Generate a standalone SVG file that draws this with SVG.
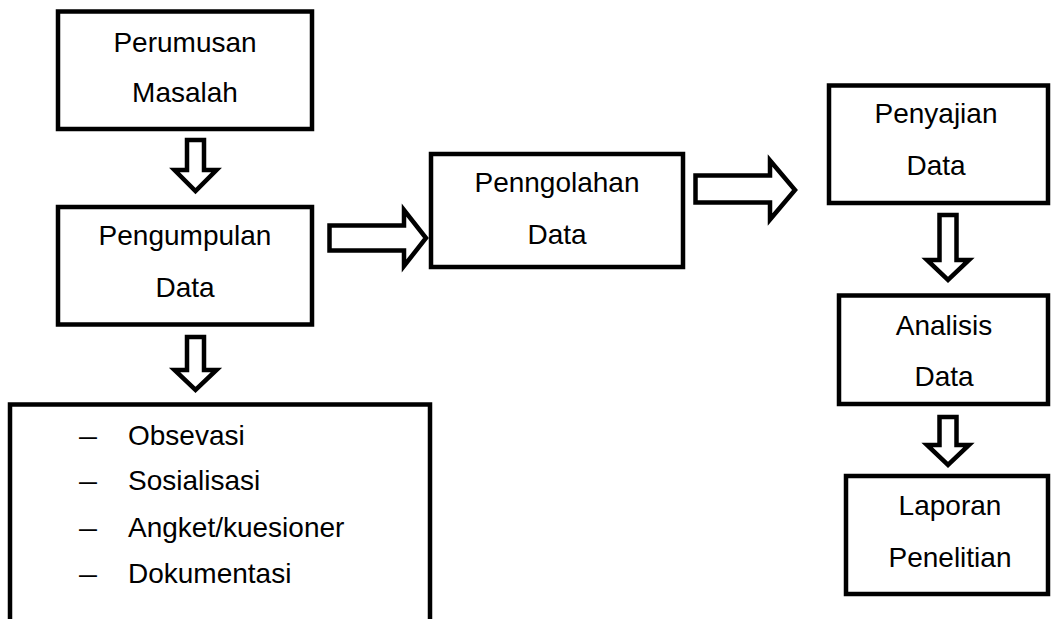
<svg xmlns="http://www.w3.org/2000/svg" width="1052" height="619" viewBox="0 0 1052 619">
<style>
.box{fill:#fff;stroke:#000;stroke-width:4.5}
.arr{fill:#fff;stroke:#000;stroke-width:4.5;stroke-linejoin:miter;stroke-miterlimit:10}
text{font-family:"Liberation Sans",Arial,sans-serif;font-size:28px;fill:#000}
.c{text-anchor:middle}
</style>
<rect width="1052" height="619" fill="#fff"/>
<g id="connectors">
<path class="arr" d="M187,140 H204 V170 H216.5 L195.5,191 L174.5,170 H187 Z"/>
<path class="arr" d="M187,337 H204 V370 H216.5 L195.5,390 L174.5,370 H187 Z"/>
<path class="arr" d="M329.5,225.5 H404 V210 L426,238 L404,266 V250.5 H329.5 Z"/>
<path class="arr" d="M695.5,175.5 H770 V160.5 L795,190 L770,219.5 V202.5 H695.5 Z"/>
<path class="arr" d="M939.5,215 H956.5 V260 H969 L948,280 L927,260 H939.5 Z"/>
<path class="arr" d="M939.5,417 H956.5 V445 H969 L948,465 L927,445 H939.5 Z"/>
</g>
<g id="perumusan">
<rect class="box" x="58" y="11.5" width="254" height="117.5"/>
<text class="c" x="185" y="52">Perumusan</text>
<text class="c" x="185" y="102">Masalah</text>
</g>
<g id="pengumpulan">
<rect class="box" x="58" y="207" width="254" height="117.5"/>
<text class="c" x="185" y="245">Pengumpulan</text>
<text class="c" x="185" y="297">Data</text>
</g>
<g id="metode">
<path class="box" d="M10,640 V404.5 H430 V640"/>
<text x="79" y="445" textLength="18" lengthAdjust="spacingAndGlyphs">–</text><text x="128" y="445">Obsevasi</text>
<text x="79" y="490" textLength="18" lengthAdjust="spacingAndGlyphs">–</text><text x="128" y="490">Sosialisasi</text>
<text x="79" y="537" textLength="18" lengthAdjust="spacingAndGlyphs">–</text><text x="128" y="537">Angket/kuesioner</text>
<text x="79" y="583" textLength="18" lengthAdjust="spacingAndGlyphs">–</text><text x="128" y="583">Dokumentasi</text>
</g>
<g id="pengolahan">
<rect class="box" x="431" y="154" width="252" height="113"/>
<text class="c" x="557" y="192">Penngolahan</text>
<text class="c" x="557" y="244">Data</text>
</g>
<g id="penyajian">
<rect class="box" x="829" y="85.5" width="219" height="117.5"/>
<text class="c" x="936" y="123">Penyajian</text>
<text class="c" x="936" y="175">Data</text>
</g>
<g id="analisis">
<rect class="box" x="839" y="295.5" width="209" height="108.5"/>
<text class="c" x="944" y="335">Analisis</text>
<text class="c" x="944" y="386">Data</text>
</g>
<g id="laporan">
<rect class="box" x="846" y="476" width="202" height="118"/>
<text class="c" x="950" y="515">Laporan</text>
<text class="c" x="950" y="567">Penelitian</text>
</g>
</svg>
